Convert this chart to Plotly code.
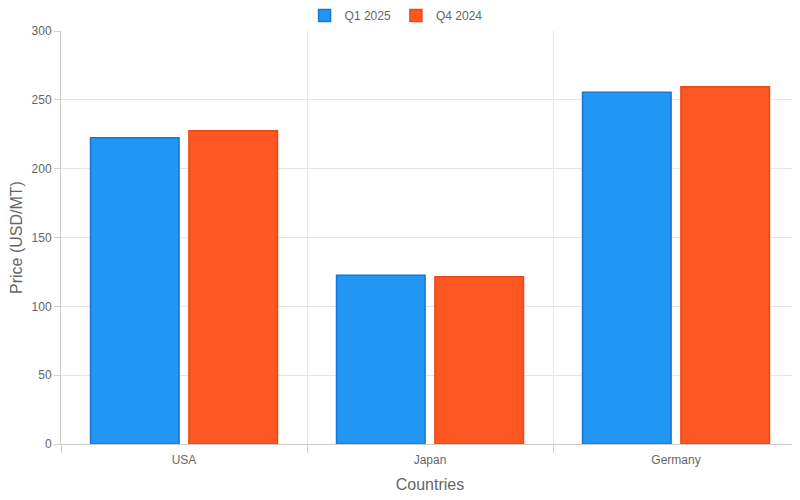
import plotly.graph_objects as go

# data
countries = ["USA", "Japan", "Germany"]
q1_2025 = [222.5, 122.5, 255.5]
q4_2024 = [227.5, 121.5, 259.5]

grid = "#e5e5e5"
text_col = "#666666"

fig = go.Figure()

fig.add_trace(
    go.Bar(
        x=countries,
        y=q1_2025,
        name="Q1 2025",
        marker=dict(color="#2196F3", line=dict(color="#1976D2", width=1.5))
    )
)

fig.add_trace(
    go.Bar(
        x=countries,
        y=q4_2024,
        name="Q4 2024",
        marker=dict(color="#FF5722", line=dict(color="#E64A19", width=1.5))
    )
)

# the page body has an 8px margin, so the figure is a bit smaller
fig.update_layout(
    width=792,
    height=492,
    barmode="group",
    bargap=0.2,
    bargroupgap=0.1,
    plot_bgcolor="white",
    paper_bgcolor="white",
    font=dict(family="Liberation Sans, Arial, sans-serif", size=12, color=text_col),
    margin=dict(l=53, r=1, t=23, b=56, autoexpand=False),
    legend=dict(
        orientation="h",
        xref="container",
        x=0.49,
        xanchor="center",
        yref="container",
        y=0.985,
        yanchor="middle",
        font=dict(size=12, color=text_col),
        itemwidth=30,
    ),
    xaxis=dict(
        title=dict(text="Countries", font=dict(size=16, color=text_col), standoff=12),
        automargin=False,
        tickson="boundaries",
        showgrid=True,
        gridcolor=grid,
        ticks="outside",
        ticklen=8,
        tickcolor="#d0d0d0",
        ticklabelstandoff=5,
        showline=True,
        linecolor="#cccccc",
        tickfont=dict(size=12, color=text_col),
    ),
    yaxis=dict(
        title=dict(text="Price (USD/MT)", font=dict(size=16, color=text_col), standoff=12),
        automargin=False,
        range=[0, 300],
        dtick=50,
        showgrid=True,
        gridcolor=grid,
        ticks="outside",
        ticklen=6,
        tickcolor="#d0d0d0",
        showline=True,
        linecolor="#cccccc",
        zeroline=False,
        tickfont=dict(size=12, color=text_col),
    ),
)

fig.write_html("out.html")
